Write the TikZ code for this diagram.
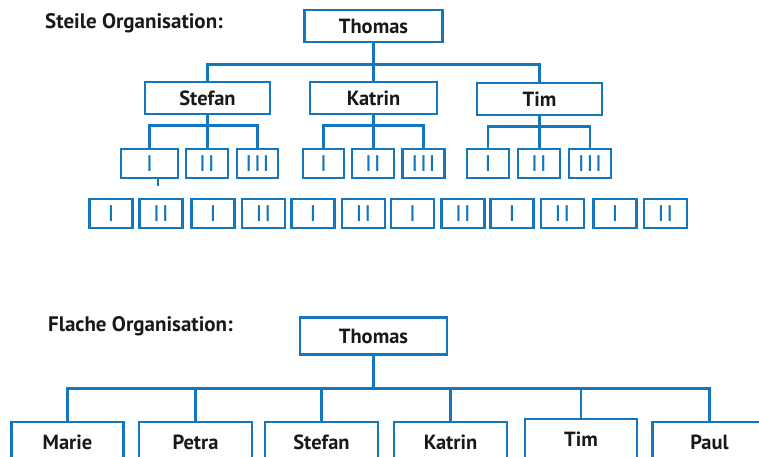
\documentclass[tikz,border=0pt]{standalone}
\usepackage{fontspec}
\setmainfont{PT Sans}
\newfontfamily\numfont[LetterSpace=10]{Liberation Sans}
\definecolor{orgblue}{RGB}{20,118,188}
\begin{document}
\begin{tikzpicture}[x=1pt,y=-1pt,
  box/.style={draw=orgblue,line width=2.6pt,fill=white,inner sep=0pt,
    font=\fontsize{20.5}{20.5}\selectfont\bfseries,text=black!90},
  small/.style={draw=orgblue,line width=2.6pt,fill=white,inner sep=0pt,
    minimum height=29pt,text=orgblue,font=\numfont\fontsize{23}{23}\selectfont},
  link/.style={draw=orgblue,line width=2.6pt},
  title/.style={font=\fontsize{21}{21}\selectfont\bfseries,text=black!90,inner sep=0pt}]
\useasboundingbox (0,0) rectangle (759,457);
\clip (0,0) rectangle (759,457);

% ---------- Steile Organisation ----------
\node[title,anchor=west] (t1) at (45,23) {Steile Organisation:};
\node[box,minimum width=138pt,minimum height=32pt] (thomas) at (373.5,26) {Thomas};
\node[box,minimum width=125pt,minimum height=32pt] (stefan) at (207.5,98) {Stefan};
\node[box,minimum width=127pt,minimum height=32pt] (katrin) at (373.5,98) {Katrin};
\node[box,minimum width=125pt,minimum height=32pt] (tim) at (539.5,99) {Tim};

\draw[link] (thomas.south) -- ++(0,21) -| (stefan.north);
\draw[link] (thomas.south) -- (katrin.north);
\draw[link] (thomas.south) -- ++(0,21) -| (tim.north);

\node[small,minimum width=57pt] (sI) at (149.5,163.5) {I};
\node[small,minimum width=42pt] (sII) at (207,163.5) {II};
\node[small,minimum width=41pt] (sIII) at (257.5,163.5) {III};
\node[small,minimum width=41pt] (kI) at (323.5,163.5) {I};
\node[small,minimum width=42pt] (kII) at (373,163.5) {II};
\node[small,minimum width=42pt] (kIII) at (423.5,163.5) {III};
\node[small,minimum width=42pt] (tI) at (488,163.5) {I};
\node[small,minimum width=42pt] (tII) at (539,163.5) {II};
\node[small,minimum width=42pt] (tIII) at (590,163.5) {III};

\foreach \p/\a/\b/\c in {stefan/sI/sII/sIII,katrin/kI/kII/kIII,tim/tI/tII/tIII}{
  \draw[link] (\p.south) -- ++(0,10) -| (\a.north);
  \draw[link] (\p.south) -- (\p.south |- \b.north);
  \draw[link] (\p.south) -- ++(0,10) -| (\c.north);
}
\draw[draw=orgblue,line width=1.2pt] ([xshift=8.5pt]sI.south) -- ++(0,7);

\foreach \x/\t [count=\i] in {111/I,161/II,213/I,263.5/II,313/I,363.5/II,412.5/I,463/II,512/I,562.5/II,615/I,665.5/II}{
  \node[small,minimum width=43pt] (b\i) at (\x,213.5) {\t};
}

% ---------- Flache Organisation ----------
\node[title,anchor=west] (t2) at (48,326) {Flache Organisation:};
\node[box,minimum width=147pt,minimum height=37pt] (thomasB) at (373.5,336) {Thomas};

\node[box,minimum width=112pt,minimum height=41pt] (marie) at (67.5,442.5) {Marie};
\node[box,minimum width=113pt,minimum height=41pt] (petra) at (195.5,442.5) {Petra};
\node[box,minimum width=113pt,minimum height=41pt] (stefanB) at (321.5,442.5) {Stefan};
\node[box,minimum width=113pt,minimum height=41pt] (katrinB) at (450.5,442.5) {Katrin};
\node[box,minimum width=112pt,minimum height=41pt] (timB) at (581,439.5) {Tim};
\node[box,minimum width=114pt,minimum height=41pt] (paul) at (709.5,442.5) {Paul};

\foreach \c in {marie,petra,stefanB,katrinB,timB,paul}{
  \draw[link] (thomasB.south) -- ++(0,32.5) -| (\c.north);
}
\end{tikzpicture}
\end{document}
